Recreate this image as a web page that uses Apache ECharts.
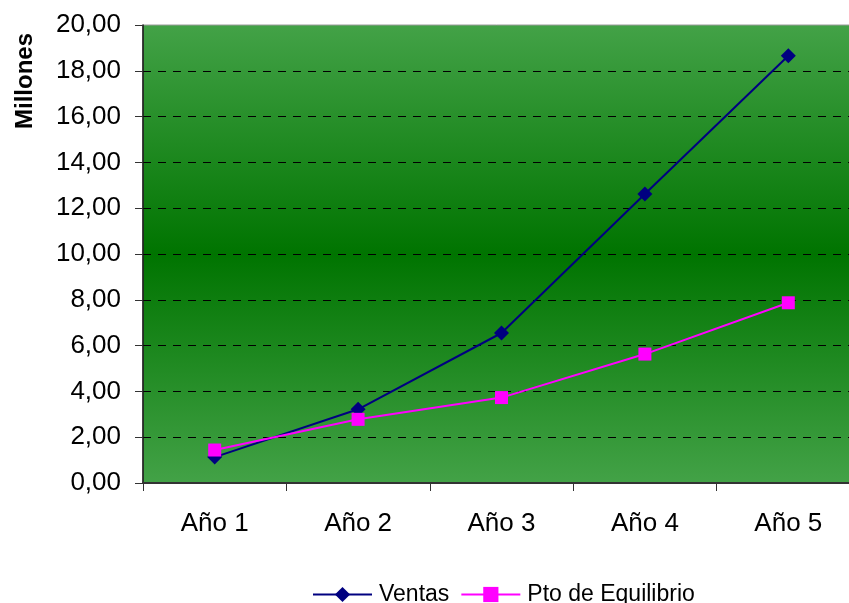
<!DOCTYPE html>
<html>
<head>
<meta charset="utf-8">
<script src="https://cdn.jsdelivr.net/npm/echarts@6/dist/echarts.min.js"></script>
<style>
  html, body { margin: 0; padding: 0; background: #ffffff; }
  #chart { width: 849px; height: 603px; }
</style>
</head>
<body>
<div id="chart"></div>
<script>
// Sales vs. break-even point, in millions
const categories = ['Año 1', 'Año 2', 'Año 3', 'Año 4', 'Año 5'];
const ventas = [1.13, 3.22, 6.55, 12.62, 18.66];
const equilibrio = [1.44, 2.78, 3.73, 5.63, 7.87];
const yTicks = { min: 0, max: 20, interval: 2 };

const fmt = v => v.toFixed(2).replace('.', ',');

const chart = echarts.init(document.getElementById('chart'), null, { renderer: 'canvas' });
const font = 'Liberation Sans, Arial, sans-serif';

chart.setOption({
  animation: false,
  backgroundColor: '#ffffff',
  grid: {
    left: 143,
    top: 25,
    width: 717,
    height: 458,
    outerBoundsMode: 'none',
    containLabel: false,
    show: true,
    borderColor: '#9a9a9a',
    borderWidth: 1,
    backgroundColor: new echarts.graphic.LinearGradient(0, 0, 0, 1, [
      { offset: 0, color: '#43a247' },
      { offset: 0.5, color: '#007400' },
      { offset: 1, color: '#43a247' }
    ])
  },
  graphic: [
    {
      type: 'text',
      x: 25,
      y: 81,
      rotation: Math.PI / 2,
      style: {
        text: 'Millones',
        fontFamily: font,
        fontSize: 24,
        fontWeight: 'bold',
        fill: '#000',
        align: 'center',
        verticalAlign: 'middle'
      }
    }
  ],
  legend: {
    left: 312,
    top: 583,
    padding: 0,
    itemWidth: 59,
    itemHeight: 19,
    itemGap: 11,
    textStyle: { fontFamily: font, fontSize: 23, color: '#000', padding: [0, 0, 0, 2] },
    data: [
      { name: 'Ventas' },
      { name: 'Pto de Equilibrio' }
    ]
  },
  xAxis: {
    type: 'category',
    data: categories,
    boundaryGap: true,
    axisLine: { lineStyle: { color: '#333', width: 2 } },
    axisTick: { show: true, length: 8, lineStyle: { color: '#333' } },
    axisLabel: { fontFamily: font, fontSize: 26, color: '#000', margin: 28 },
    splitLine: { show: false }
  },
  yAxis: {
    type: 'value',
    min: yTicks.min,
    max: yTicks.max,
    interval: yTicks.interval,
    axisLine: { show: true, lineStyle: { color: '#111', width: 1.5 } },
    axisTick: { show: true, length: 8, lineStyle: { color: '#333' } },
    axisLabel: { fontFamily: font, fontSize: 26, color: '#000', margin: 22, formatter: fmt },
    splitLine: {
      show: true,
      showMinLine: false,
      showMaxLine: false,
      lineStyle: { color: '#000', width: 1, type: [8, 7] }
    }
  },
  series: [
    {
      name: 'Ventas',
      type: 'line',
      data: ventas,
      symbol: 'diamond',
      symbolSize: 15,
      lineStyle: { color: '#000080', width: 2 },
      itemStyle: { color: '#000080' }
    },
    {
      name: 'Pto de Equilibrio',
      type: 'line',
      data: equilibrio,
      symbol: 'rect',
      symbolSize: 13,
      lineStyle: { color: '#ff00ff', width: 2 },
      itemStyle: { color: '#ff00ff' }
    }
  ]
});
</script>
</body>
</html>
